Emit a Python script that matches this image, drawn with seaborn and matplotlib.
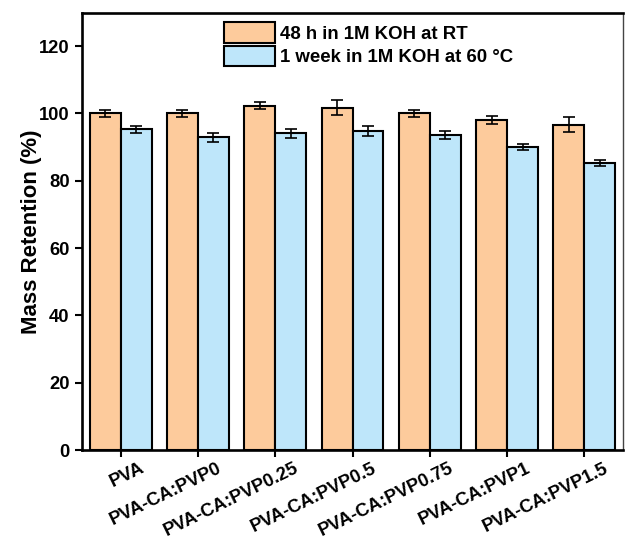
import matplotlib
matplotlib.use("Agg")
import matplotlib.pyplot as plt
import matplotlib.transforms as mtransforms
from matplotlib.patches import Patch
import pandas as pd
import seaborn as sns

# Samples and mass retention (%) with standard deviations
samples = ["PVA", "PVA-CA:PVP0", "PVA-CA:PVP0.25", "PVA-CA:PVP0.5",
           "PVA-CA:PVP0.75", "PVA-CA:PVP1", "PVA-CA:PVP1.5"]
conditions = ["48 h in 1M KOH at RT", "1 week in 1M KOH at 60 °C"]
retention_rt = [100.0, 100.0, 102.3, 101.7, 100.0, 98.0, 96.7]
retention_rt_err = [1.1, 1.1, 1.1, 2.2, 1.1, 1.1, 2.2]
retention_60c = [95.3, 92.9, 94.1, 94.9, 93.6, 90.1, 85.2]
retention_60c_err = [1.1, 1.25, 1.3, 1.5, 1.1, 0.9, 0.9]
y_ticks = [0, 20, 40, 60, 80, 100, 120]

colors = ["#FDCB9C", "#BEE6FA"]

sns.set_theme(style="white")
plt.rcParams["font.family"] = ["Liberation Sans", "DejaVu Sans"]
plt.rcParams["font.weight"] = "bold"
plt.rcParams.update({
    "xtick.bottom": True, "ytick.left": True,
    "xtick.color": "black", "ytick.color": "black",
    "axes.labelcolor": "black", "text.color": "black",
})

df = pd.DataFrame({
    "Sample": samples * 2,
    "Condition": [conditions[0]] * len(samples) + [conditions[1]] * len(samples),
    "Retention": retention_rt + retention_60c,
})

fig = plt.figure(figsize=(6.25, 5.46), dpi=100)
ax = fig.add_axes([0.1312, 0.1758, 0.9968 - 0.1312, 0.9771 - 0.1758])

sns.barplot(data=df, x="Sample", y="Retention", hue="Condition",
            hue_order=conditions, order=samples, palette=colors,
            errorbar=None, width=0.8, gap=0, edgecolor="black",
            linewidth=1.5, saturation=1, legend=False, ax=ax)

# error bars at the centre of each bar
errs = {conditions[0]: retention_rt_err, conditions[1]: retention_60c_err}
vals = {conditions[0]: retention_rt, conditions[1]: retention_60c}
for container, cond in zip(ax.containers, conditions):
    xs = [p.get_x() + p.get_width() / 2 for p in container.patches]
    ax.errorbar(xs, vals[cond], yerr=errs[cond], fmt="none", ecolor="black",
                elinewidth=1.2, capsize=4.3, capthick=1.2, zorder=5)

ax.set_xlim(-0.5, len(samples) - 0.5)
ax.set_ylim(0, 130)
ax.set_yticks(y_ticks)
ax.set_xlabel("")
ax.set_ylabel("Mass Retention (%)", fontsize=16, fontweight="bold",
              color="black")
ax.yaxis.set_label_coords(-0.074, 0.5)

for side in ["left", "top", "bottom"]:
    ax.spines[side].set_linewidth(1.9)
    ax.spines[side].set_color("black")
ax.spines["right"].set_linewidth(1.0)
ax.spines["right"].set_color("#444444")

ax.tick_params(axis="both", which="major", direction="out", length=5,
               width=1.5, color="black", labelsize=13.2, labelcolor="black")
ax.tick_params(axis="y", left=True, pad=4)
ax.tick_params(axis="x", bottom=True, pad=2)
for lbl in ax.get_yticklabels():
    lbl.set_fontweight("bold")

offset = mtransforms.ScaledTranslation(0.19, 0, fig.dpi_scale_trans)
for lbl in ax.get_xticklabels():
    lbl.set_rotation(26)
    lbl.set_ha("right")
    lbl.set_va("top")
    lbl.set_rotation_mode("anchor")
    lbl.set_fontweight("bold")
    lbl.set_transform(lbl.get_transform() + offset)

handles = [Patch(facecolor=c, edgecolor="black", linewidth=1.5) for c in colors]
leg = ax.legend(handles, conditions, loc="upper left",
                bbox_to_anchor=(0.262, 0.978), frameon=False,
                prop={"size": 13.4, "weight": "bold"},
                handlelength=2.74, handleheight=1.34, labelspacing=0.15,
                handletextpad=0.3, borderpad=0, borderaxespad=0)

fig.savefig("out.png", dpi=100)
